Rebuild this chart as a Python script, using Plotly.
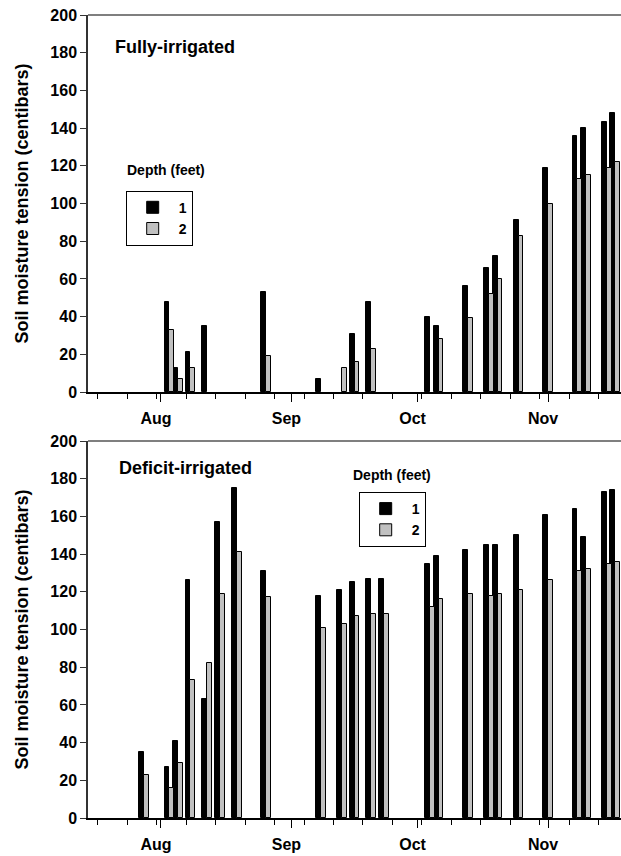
import plotly.graph_objects as go

# ---- data ----
top_dates = ["2005-08-03", "2005-08-05", "2005-08-08", "2005-08-12", "2005-08-26",
             "2005-09-08", "2005-09-13", "2005-09-16", "2005-09-20", "2005-10-04",
             "2005-10-06", "2005-10-13", "2005-10-18", "2005-10-20", "2005-10-25",
             "2005-11-01", "2005-11-08", "2005-11-10", "2005-11-15", "2005-11-17"]
top_depth1 = [48, 13, 21, 35, 53, 7, None, 31, 48, 40, 35, 56, 66, 72, 91, 119, 136, 140, 143, 148]
top_depth2 = [33, 7, 13, None, 19, None, 13, 16, 23, None, 28, 39, 52, 60, 83, 100, 113, 115, 119, 122]

bot_dates = ["2005-07-28", "2005-08-03", "2005-08-05", "2005-08-08", "2005-08-12",
             "2005-08-15", "2005-08-19", "2005-08-26", "2005-09-08", "2005-09-13",
             "2005-09-16", "2005-09-20", "2005-09-23", "2005-10-04", "2005-10-06",
             "2005-10-13", "2005-10-18", "2005-10-20", "2005-10-25", "2005-11-01",
             "2005-11-08", "2005-11-10", "2005-11-15", "2005-11-17"]
bot_depth1 = [35, 27, 41, 126, 63, 157, 175, 131, 118, 121, 125, 127, 127, 135, 139,
              142, 145, 145, 150, 161, 164, 149, 173, 174]
bot_depth2 = [23, 16, 29, 73, 82, 119, 141, 117, 101, 103, 107, 108, 108, 112, 116,
              119, 118, 119, 121, 126, 131, 132, 135, 136]

month_ticks = ["2005-08-01", "2005-09-01", "2005-10-01", "2005-11-01"]
month_labels = ["Aug", "Sep", "Oct", "Nov"]
y_ticks = list(range(0, 201, 20))
panel_titles = ["Fully-irrigated", "Deficit-irrigated"]
legend_title = "Depth (feet)"
series_names = ["1", "2"]

# ---- style ----
FONT = "Liberation Sans, Arial, sans-serif"
DAY = 86400000
BW = 1.15 * DAY
BLACK = "#000000"
GRAY = "#c0c0c0"

fig = go.Figure()

def add_pair(dates, d1, d2, xa, ya, legend):
    fig.add_trace(go.Bar(x=dates, y=d1, name=series_names[0], width=BW, offset=-BW,
                         marker=dict(color=BLACK, line=dict(color=BLACK, width=1)),
                         xaxis=xa, yaxis=ya, legend=legend))
    fig.add_trace(go.Bar(x=dates, y=d2, name=series_names[1], width=BW, offset=0,
                         marker=dict(color=GRAY, line=dict(color=BLACK, width=1)),
                         xaxis=xa, yaxis=ya, legend=legend))

add_pair(top_dates, top_depth1, top_depth2, "x", "y", "legend")
add_pair(bot_dates, bot_depth1, bot_depth2, "x2", "y2", "legend2")

xrange = ["2005-07-14 15:36", "2005-11-18 08:24"]

def xaxis_cfg(anchor):
    return dict(type="date", range=xrange, anchor=anchor, automargin=False,
                tickmode="array", tickvals=month_ticks, ticktext=month_labels,
                ticks="outside", ticklen=8, tickwidth=1, tickcolor=BLACK,
                showline=True, linecolor=BLACK, linewidth=1.5, mirror=False,
                showgrid=False, zeroline=False, ticklabelshift=-5, ticklabelstandoff=3,
                tickfont=dict(family=FONT, size=16, color=BLACK, weight="bold"),
                minor=dict(dtick=7 * DAY, tick0="2005-07-03", ticks="outside",
                           ticklen=5, tickcolor=BLACK, tickwidth=1, showgrid=False))

def yaxis_cfg(anchor, domain):
    return dict(range=[0, 200], domain=domain, anchor=anchor, automargin=False,
                tickmode="array", tickvals=y_ticks,
                ticks="outside", ticklen=6, tickwidth=1, tickcolor="#333333",
                showline=True, linecolor="#333333", linewidth=1.5,
                showgrid=False, zeroline=False,
                tickfont=dict(family=FONT, size=16, color=BLACK, weight="bold"),
                title=dict(text="Soil moisture tension (centibars)", standoff=17,
                           font=dict(family=FONT, size=18, color=BLACK, weight="bold")))

top_dom = [426 / 803, 1.0]
bot_dom = [0.0, 377 / 803]

leg_common = dict(bgcolor="white", bordercolor=BLACK, borderwidth=1,
                  font=dict(family=FONT, size=14, color=BLACK, weight="bold"),
                  xanchor="left", yanchor="top", itemwidth=42, tracegroupgap=0)

fig.update_layout(
    width=621, height=856,
    margin=dict(l=88, r=0, t=15, b=38),
    paper_bgcolor="white", plot_bgcolor="white",
    barmode="overlay", bargap=0,
    showlegend=True,
    xaxis=xaxis_cfg("y"),
    yaxis=yaxis_cfg("x", top_dom),
    xaxis2=xaxis_cfg("y2"),
    yaxis2=yaxis_cfg("x2", bot_dom),
    legend=dict(x=(125.7 - 88) / 533, y=(818 - 190.7) / 803, **leg_common),
    legend2=dict(x=(358.7 - 88) / 533, y=(818 - 492) / 803, **leg_common),
)

# top border lines of both panels
for dom in (top_dom, bot_dom):
    fig.add_shape(type="line", xref="paper", yref="paper", x0=0, x1=1,
                  y0=dom[1], y1=dom[1], line=dict(color="#555555", width=1.5))

ann_font = dict(family=FONT, size=18, color=BLACK, weight="bold")
fig.add_annotation(text=panel_titles[0], xref="paper", yref="paper",
                   x=(113 - 88) / 533, y=(818 - 47) / 803, xanchor="left", yanchor="middle",
                   showarrow=False, font=ann_font)
fig.add_annotation(text=panel_titles[1], xref="paper", yref="paper",
                   x=(117 - 88) / 533, y=(818 - 468) / 803, xanchor="left", yanchor="middle",
                   showarrow=False, font=ann_font)
leg_font = dict(family=FONT, size=14, color=BLACK, weight="bold")
fig.add_annotation(text=legend_title, xref="paper", yref="paper",
                   x=(125 - 88) / 533, y=(818 - 170) / 803, xanchor="left", yanchor="middle",
                   showarrow=False, font=leg_font)
fig.add_annotation(text=legend_title, xref="paper", yref="paper",
                   x=(350.7 - 88) / 533, y=(818 - 475) / 803, xanchor="left", yanchor="middle",
                   showarrow=False, font=leg_font)

fig.write_html("out.html", config={"displayModeBar": False},
               post_script="document.body.style.margin='0px';"
                           "document.body.style.overflow='hidden';")
